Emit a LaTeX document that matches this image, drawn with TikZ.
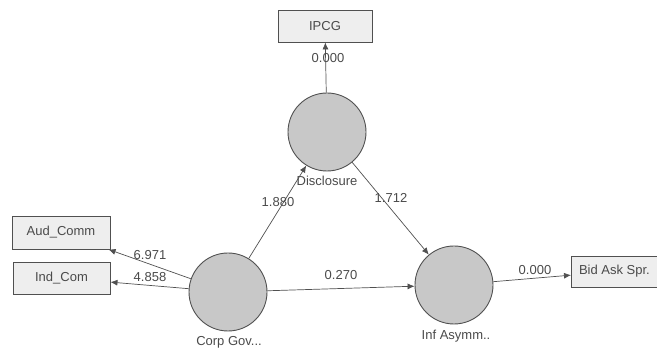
\documentclass[tikz,border=0pt]{standalone}
\usepackage{fontspec}
\setmainfont{Liberation Sans}
\usetikzlibrary{arrows.meta}
\definecolor{txt}{HTML}{4A4A4A}
\definecolor{edge}{HTML}{505050}
\definecolor{boxfill}{HTML}{EEEEEE}
\definecolor{circfill}{HTML}{C8C8C8}
\tikzset{
  indbox/.style={draw=edge, line width=0.9pt, fill=boxfill, rectangle, inner sep=0pt, text=txt, font=\fontsize{13}{15}\selectfont},
  latent/.style={draw=edge, line width=0.9pt, fill=circfill, circle, minimum size=78pt, inner sep=0pt},
  lbl/.style={text=txt, font=\fontsize{13}{15}\selectfont, inner sep=0pt},
  path/.style={draw=edge, line width=0.7pt, -{Latex[length=7pt,width=6pt]}},
}
\begin{document}
\begin{tikzpicture}[x=1pt,y=-1pt]
\useasboundingbox (0,0) rectangle (657,352);
% indicator boxes
\node[indbox, minimum width=94pt, minimum height=32pt] (ipcg) at (325,26) {IPCG};
\node[indbox, minimum width=98pt, minimum height=33pt] (aud) at (61,232.5) {Aud\_Comm};
\node[indbox, minimum width=97pt, minimum height=32pt] (ind) at (61.5,278) {Ind\_Com};
\node[indbox, minimum width=86pt, minimum height=31pt, anchor=west] (bid) at (571,271.5) {Bid Ask Spr.};
% latent variables
\node[latent] (dis) at (327,132) {};
\node[latent] (cg) at (228,292) {};
\node[latent] (ia) at (454,285) {};
% latent labels
\node[lbl] (disl) at (327,181) {Disclosure};
\node[lbl] (cgl) at (229,342) {Corp Gov...};
\node[lbl] (ial) at (456,336) {Inf Asymm..};
% paths
\draw[path] (dis) -- (ipcg);
\draw[path] (cg) -- (aud);
\draw[path] (cg) -- (ind);
\draw[path] (cg) -- (dis);
\draw[path] (dis) -- (ia);
\draw[path] (cg) -- (ia);
\draw[path] (ia) -- (bid);
% path labels
\node[lbl] (l1) at (328,58) {0.000};
\node[lbl] (l2) at (150,255) {6.971};
\node[lbl] (l3) at (150,277) {4.858};
\node[lbl] (l4) at (278,202) {1.880};
\node[lbl] (l5) at (391,198) {1.712};
\node[lbl] (l6) at (341,275) {0.270};
\node[lbl] (l7) at (535,270) {0.000};
\end{tikzpicture}
\end{document}
